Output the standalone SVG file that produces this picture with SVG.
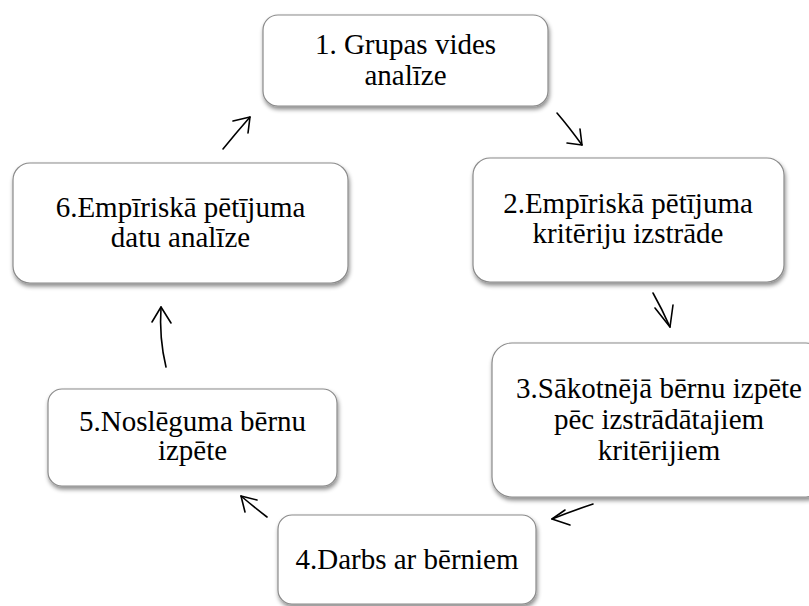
<svg xmlns="http://www.w3.org/2000/svg" width="809" height="606" viewBox="0 0 809 606">
<defs>
<filter id="sh" x="-10%" y="-10%" width="120%" height="130%">
<feDropShadow dx="1" dy="3" stdDeviation="2" flood-color="#000" flood-opacity="0.45"/>
</filter>
<style>
.box{fill:#fff;stroke:#8a8a8a;stroke-width:1.2;filter:url(#sh)}
.t{font-family:"Liberation Serif",serif;font-size:29px;fill:#000;text-anchor:middle}
.a{fill:none;stroke:#000;stroke-width:1.6;stroke-linecap:round;stroke-linejoin:round}
</style>
</defs>
<rect width="809" height="606" fill="#fff"/>
<g id="n1">
<rect class="box" x="263" y="15" width="285" height="91" rx="15"/>
<text class="t" font-family="Liberation Serif" x="405.5" y="54">1. Grupas vides</text>
<text class="t" font-family="Liberation Serif" x="405.5" y="85">analīze</text>
</g>
<g id="n2">
<rect class="box" x="473" y="158" width="311" height="124" rx="17"/>
<text class="t" font-family="Liberation Serif" x="628" y="213">2.Empīriskā pētījuma</text>
<text class="t" font-family="Liberation Serif" x="628" y="243">kritēriju izstrāde</text>
</g>
<g id="n3">
<rect class="box" x="492" y="343" width="334" height="154" rx="20"/>
<text class="t" font-family="Liberation Serif" x="659" y="398">3.Sākotnējā bērnu izpēte</text>
<text class="t" font-family="Liberation Serif" x="659" y="429">pēc izstrādātajiem</text>
<text class="t" font-family="Liberation Serif" x="659" y="460">kritērijiem</text>
</g>
<g id="n4">
<rect class="box" x="278" y="515" width="258" height="89" rx="14"/>
<text class="t" font-family="Liberation Serif" x="407" y="569">4.Darbs ar bērniem</text>
</g>
<g id="n5">
<rect class="box" x="48" y="389" width="289" height="97" rx="14"/>
<text class="t" font-family="Liberation Serif" x="192.5" y="431">5.Noslēguma bērnu</text>
<text class="t" font-family="Liberation Serif" x="192.5" y="460">izpēte</text>
</g>
<g id="n6">
<rect class="box" x="13" y="163" width="335" height="120" rx="17"/>
<text class="t" font-family="Liberation Serif" x="180.5" y="217">6.Empīriskā pētījuma</text>
<text class="t" font-family="Liberation Serif" x="180.5" y="247">datu analīze</text>
</g>
<g id="connectors">
<path class="a" d="M557 113 Q569 127 582 145"/>
<path class="a" d="M567 143 L582 145 L580 129"/>
<path class="a" d="M653 293 Q662 309 670 327"/>
<path class="a" d="M655 308 L670 327 L673 305"/>
<path class="a" d="M593 504 Q572 511 552 519"/>
<path class="a" d="M565 510 L552 519 L570 525"/>
<path class="a" d="M267 517 Q254 507 241 496"/>
<path class="a" d="M245 512 L241 496 L257 500"/>
<path class="a" d="M166 367 Q159 338 161 307"/>
<path class="a" d="M152 322 L161 307 L171 323"/>
<path class="a" d="M223 149 Q236 133 250 117"/>
<path class="a" d="M233 121 L250 117 L248 133"/>
</g>
</svg>
